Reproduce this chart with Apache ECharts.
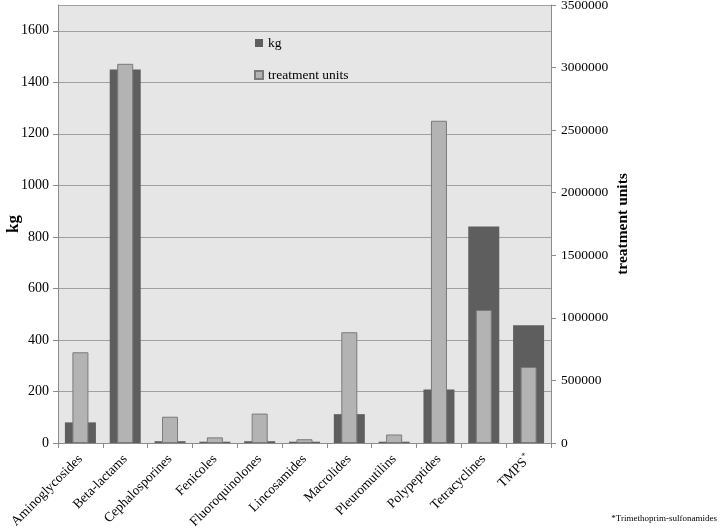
<!DOCTYPE html>
<html>
<head>
<meta charset="utf-8">
<script src="https://cdn.jsdelivr.net/npm/echarts@6/dist/echarts.min.js"></script>
<style>html,body{margin:0;padding:0;background:#fff}#c{width:720px;height:528px}</style>
</head>
<body>
<div id="c"></div>
<script>
const categories = ['Aminoglycosides','Beta-lactams','Cephalosporines','Fenicoles','Fluoroquinolones','Lincosamides','Macrolides','Pleuromutilins','Polypeptides','Tetracyclines','TMPS'];
const kgValues = [80, 1450, 7, 5, 7, 5, 112, 5, 208, 840, 457];
const treatmentUnits = [725000, 3030000, 210000, 45000, 235000, 30000, 885000, 68000, 2575000, 1063000, 607000];
const leftTicks = {min: 0, max: 1700, interval: 200};
const rightTicks = {min: 0, max: 3500000, interval: 500000};

const font = 'Liberation Serif';
const chart = echarts.init(document.getElementById('c'));
const axisCol = '#8c8c8c';
chart.setOption({
  animation: false,
  textStyle: {fontFamily: font},
  grid: {left: 58, right: 169, top: 5, bottom: 85, show: true, backgroundColor: '#e6e6e6', borderWidth: 0, containLabel: false, outerBoundsMode: 'none'},
  legend: {
    orient: 'vertical', left: 249, top: 31, itemGap: 18, itemWidth: 8, itemHeight: 8,
    textStyle: {fontFamily: font, fontSize: 13.5, color: '#000'},
    data: [{name: 'kg', icon: 'rect'}, {name: 'treatment units', icon: 'rect'}]
  },
  xAxis: [{
    type: 'category', data: categories,
    axisLine: {lineStyle: {color: axisCol}},
    axisTick: {show: true, length: 5, lineStyle: {color: axisCol}},
    axisLabel: {
      rotate: 45, margin: 14, fontFamily: font, fontSize: 13.5, color: '#000',
      formatter: v => v === 'TMPS' ? 'TMPS{sup|*}' : v,
      rich: {sup: {fontSize: 8, verticalAlign: 'top', padding: [0,0,8,1], fontFamily: font, color: '#000'}}
    }
  }, {
    type: 'category', data: categories, show: false
  }],
  yAxis: [{
    type: 'value', min: leftTicks.min, max: leftTicks.max, interval: leftTicks.interval,
    name: 'kg', nameLocation: 'middle', nameGap: 36, nameRotate: 90, nameMoveOverlap: false,
    nameTextStyle: {fontFamily: font, fontSize: 17, fontWeight: 'bold', color: '#000'},
    axisLine: {show: true, lineStyle: {color: axisCol}},
    axisTick: {show: true, length: 5, lineStyle: {color: axisCol}},
    axisLabel: {showMaxLabel: false, margin: 9, fontFamily: font, fontSize: 14, color: '#000', formatter: v => String(v)},
    splitLine: {show: true, lineStyle: {color: '#a0a0a0', width: 1}}
  }, {
    type: 'value', position: 'right', min: rightTicks.min, max: rightTicks.max, interval: rightTicks.interval,
    name: 'treatment units', nameLocation: 'middle', nameGap: 64, nameRotate: 90, nameMoveOverlap: false,
    nameTextStyle: {fontFamily: font, fontSize: 15.5, fontWeight: 'bold', color: '#000'},
    axisLine: {show: true, lineStyle: {color: axisCol}},
    axisTick: {show: true, length: 5, lineStyle: {color: axisCol}},
    axisLabel: {margin: 10, fontFamily: font, fontSize: 13.5, color: '#000', formatter: v => String(v)},
    splitLine: {show: false}
  }],
  series: [{
    name: 'kg', type: 'bar', xAxisIndex: 0, yAxisIndex: 0, data: kgValues, barWidth: 31, z: 2,
    itemStyle: {color: '#5e5e5e'}
  }, {
    name: 'treatment units', type: 'bar', xAxisIndex: 1, yAxisIndex: 1, data: treatmentUnits, barWidth: 16, z: 3,
    itemStyle: {color: '#b3b3b3', borderColor: '#7a7a7a', borderWidth: 1}
  }],
  graphic: [{
    type: 'text', right: 3, bottom: 5,
    style: {text: '*Trimethoprim-sulfonamides', fontFamily: font, fontSize: 9, fill: '#000'}
  }]
});
</script>
</body>
</html>
